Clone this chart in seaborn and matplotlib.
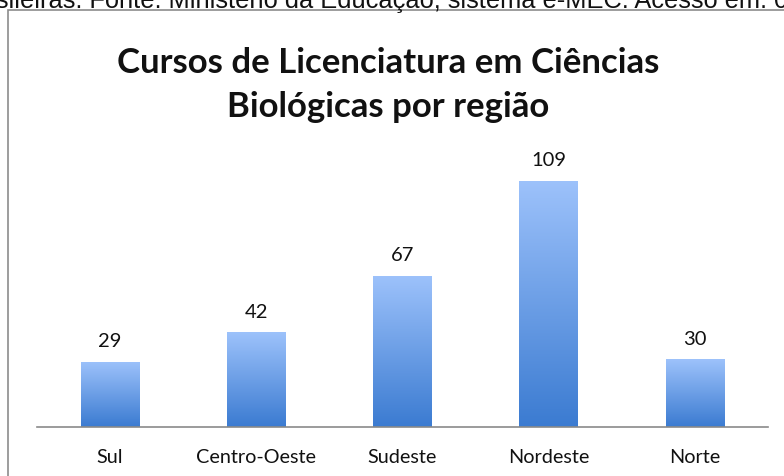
import matplotlib
matplotlib.use("Agg")
import matplotlib.pyplot as plt
import numpy as np
import pandas as pd
import seaborn as sns
from matplotlib.colors import LinearSegmentedColormap
from matplotlib.patches import Rectangle

regions = ["Sul", "Centro-Oeste", "Sudeste", "Nordeste", "Norte"]
courses = [29, 42, 67, 109, 30]
title = "Cursos de Licenciatura em Ciências\nBiológicas por região"
source_note = "brasileiras. Fonte: Ministério da Educação, sistema e-MEC. Acesso em: 0"

df = pd.DataFrame({"regiao": regions, "cursos": courses})

sns.set_theme(style="white")
plt.rcParams["font.family"] = ["Lato", "DejaVu Sans"]

fig = plt.figure(figsize=(7.84, 4.77), dpi=100)
ax = fig.add_axes([37 / 784, 1 - 428 / 477, 731 / 784, 271 / 477])

sns.barplot(data=df, x="regiao", y="cursos", color="#5b93e0", width=0.4, ax=ax)

# vertical gradient on each bar, clipped to the bar
grad = LinearSegmentedColormap.from_list("g", ["#3b7bd1", "#9dc2fb"])
for p in ax.patches:
    x0, y0 = p.get_x(), p.get_y()
    w, h = p.get_width(), p.get_height()
    im = ax.imshow(np.linspace(0, 1, 256).reshape(-1, 1), cmap=grad,
                   extent=[x0, x0 + w, y0, y0 + h], origin="lower",
                   aspect="auto", zorder=p.get_zorder() + 0.1)
    im.set_clip_path(p)
    p.set_facecolor("none")
    p.set_edgecolor("none")

for i, v in enumerate(courses):
    ax.annotate(str(v), (i, v), xytext=(0, 9), textcoords="offset points",
                ha="center", va="bottom", fontsize=14.5, color="#111111")

ax.set_xlim(-0.5, 4.5)
ax.set_ylim(0, 120)
ax.set_xlabel("")
ax.set_ylabel("")
ax.set_yticks([])
ax.tick_params(axis="x", length=0, pad=15, labelsize=14.3, labelcolor="#111111")
sns.despine(ax=ax, left=True)
ax.spines["bottom"].set_color("#8a8a8a")
ax.spines["bottom"].set_linewidth(1.2)

fig.text(388 / 784, 1 - 47 / 477, title, ha="center", va="top",
         fontsize=25, fontweight="bold", color="#111111", linespacing=1.46)

# outer chart frame, cut off by the right and bottom edges
fig.patches.append(Rectangle((8 / 784, -0.1), 1.0, 1 - 11 / 477 + 0.1,
                             transform=fig.transFigure, fill=False,
                             edgecolor="#8c8c8c", linewidth=1.2))

# caption line above the chart, cropped at the top of the picture
fig.text(-41 / 784, 1 - 8 / 477, source_note, ha="left", va="baseline",
         fontsize=18.3, family=["Liberation Sans", "DejaVu Sans"], color="#111111")

fig.savefig("out.png", dpi=100)
